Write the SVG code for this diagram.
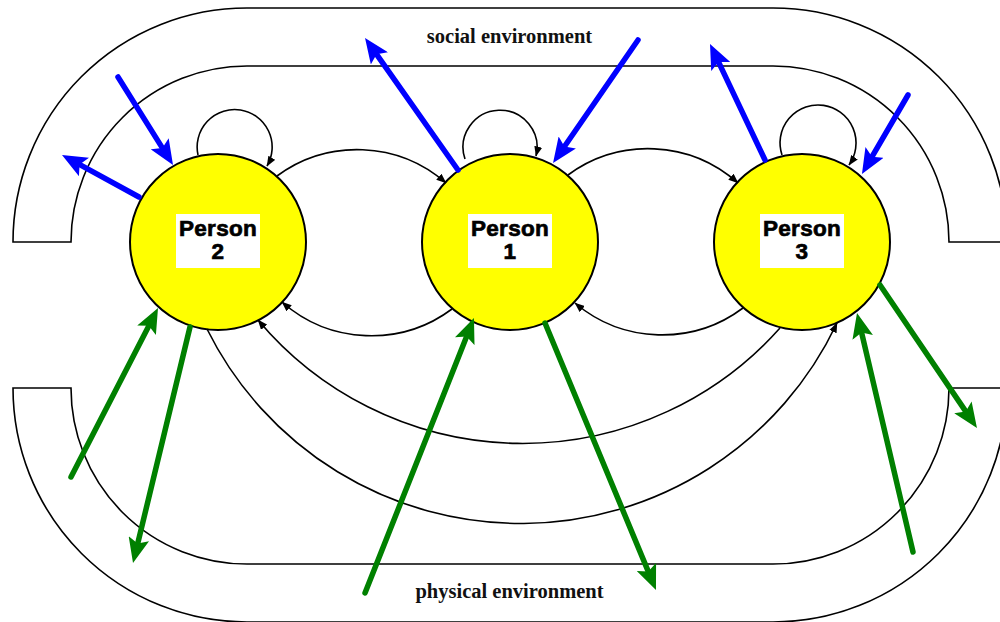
<svg xmlns="http://www.w3.org/2000/svg" width="1000" height="622" viewBox="0 0 1000 622">
<style>
.band{fill:none;stroke:#000;stroke-width:1.6}
.env{font-family:"Liberation Serif","Times New Roman",serif;font-weight:bold;font-size:20.5px;fill:#111;text-anchor:middle}
.node{fill:#ffff00;stroke:#000;stroke-width:2}
.lbl{fill:#fff}
.ltxt{font-family:"Liberation Sans",Arial,sans-serif;font-weight:bold;font-size:22.5px;fill:#000;stroke:#000;stroke-width:0.7;text-anchor:middle;letter-spacing:0.3px}
.conn{fill:none;stroke:#000;stroke-width:1.6}
.blue{fill:none;stroke:#0000ff;stroke-width:5.5;stroke-linecap:round}
.green{fill:none;stroke:#008000;stroke-width:5.5;stroke-linecap:round}
</style>
<defs>
<marker id="ab" viewBox="0 0 10 8" markerWidth="10" markerHeight="8" refX="9.5" refY="4" orient="auto" markerUnits="userSpaceOnUse"><path d="M0,0 L10,4 L0,8 z" fill="#000"/></marker>
<marker id="bb" viewBox="0 0 25 21" markerWidth="25" markerHeight="21" refX="11" refY="10.5" orient="auto" markerUnits="userSpaceOnUse"><path d="M0,0 L25,10.5 L0,21 L5,10.5 z" fill="#0000ff"/></marker>
<marker id="gb" viewBox="0 0 25 21" markerWidth="25" markerHeight="21" refX="11" refY="10.5" orient="auto" markerUnits="userSpaceOnUse"><path d="M0,0 L25,10.5 L0,21 L5,10.5 z" fill="#008000"/></marker>
</defs>
<rect width="1000" height="622" fill="#fff"/>
<g id="social-environment">
<path class="band" d="M13,242 A234,234 0 0 1 247,8 L773,8 A234,234 0 0 1 1007,242 L949,242 A176,176 0 0 0 773,66 L247,66 A176,176 0 0 0 71,242 Z"/>
<text class="env" x="509.5" y="43">social environment</text>
</g>
<g id="physical-environment">
<path class="band" d="M13,388 A234,234 0 0 0 247,622 L773,622 A234,234 0 0 0 1007,388 L949,388 A176,176 0 0 1 773,564 L247,564 A176,176 0 0 1 71,388 Z"/>
<text class="env" x="509.5" y="598">physical environment</text>
</g>
<g id="person2">
<circle class="node" cx="218" cy="242" r="88"/>
<rect class="lbl" x="176" y="214" width="84" height="54"/>
<text class="ltxt" x="218" y="236">Person</text>
<text class="ltxt" x="218" y="259">2</text>
</g>
<g id="person1">
<circle class="node" cx="510" cy="242" r="88"/>
<rect class="lbl" x="468" y="214" width="84" height="54"/>
<text class="ltxt" x="510" y="236">Person</text>
<text class="ltxt" x="510" y="259">1</text>
</g>
<g id="person3">
<circle class="node" cx="802" cy="242" r="88"/>
<rect class="lbl" x="760" y="214" width="84" height="54"/>
<text class="ltxt" x="802" y="236">Person</text>
<text class="ltxt" x="802" y="259">3</text>
</g>
<g id="connectors">
<path class="conn" marker-end="url(#ab)" d="M198,155 A37.5,37.5 0 1 1 267,166"/>
<path class="conn" marker-end="url(#ab)" d="M465,159 A37,37 0 1 1 536,156"/>
<path class="conn" marker-end="url(#ab)" d="M782,155 A38,38 0 1 1 849,165"/>
<path class="conn" marker-end="url(#ab)" d="M277,176 A135,135 0 0 1 446,183"/>
<path class="conn" marker-end="url(#ab)" d="M568,175 A135,135 0 0 1 738,183"/>
<path class="conn" marker-end="url(#ab)" d="M452,309 A135,135 0 0 1 282,302"/>
<path class="conn" marker-end="url(#ab)" d="M743,308 A135,135 0 0 1 575,303"/>
<path class="conn" marker-end="url(#ab)" d="M780,328 A345,345 0 0 1 258,320"/>
<path class="conn" marker-end="url(#ab)" d="M207,329 A350,350 0 0 0 837,323"/>
<line class="blue" marker-end="url(#bb)" x1="118" y1="77" x2="165.6" y2="153.1"/>
<line class="blue" marker-end="url(#bb)" x1="139" y1="197" x2="74.3" y2="161.7"/>
<line class="blue" marker-end="url(#bb)" x1="458" y1="170" x2="373.1" y2="49.4"/>
<line class="blue" marker-end="url(#bb)" x1="638" y1="40" x2="561.0" y2="151.5"/>
<line class="blue" marker-end="url(#bb)" x1="765" y1="160" x2="716.0" y2="56.6"/>
<line class="blue" marker-end="url(#bb)" x1="908" y1="95" x2="869.0" y2="161.9"/>
<line class="green" marker-end="url(#gb)" x1="71" y1="477" x2="151.6" y2="320.4"/>
<line class="green" marker-end="url(#gb)" x1="190" y1="327" x2="136.3" y2="549.4"/>
<line class="green" marker-end="url(#gb)" x1="365" y1="593" x2="468.8" y2="331.0"/>
<line class="green" marker-end="url(#gb)" x1="545" y1="323" x2="650.6" y2="577.1"/>
<line class="green" marker-end="url(#gb)" x1="913" y1="552" x2="860.2" y2="326.6"/>
<line class="green" marker-end="url(#gb)" x1="880" y1="285" x2="969.1" y2="416.4"/>
</g>
</svg>
